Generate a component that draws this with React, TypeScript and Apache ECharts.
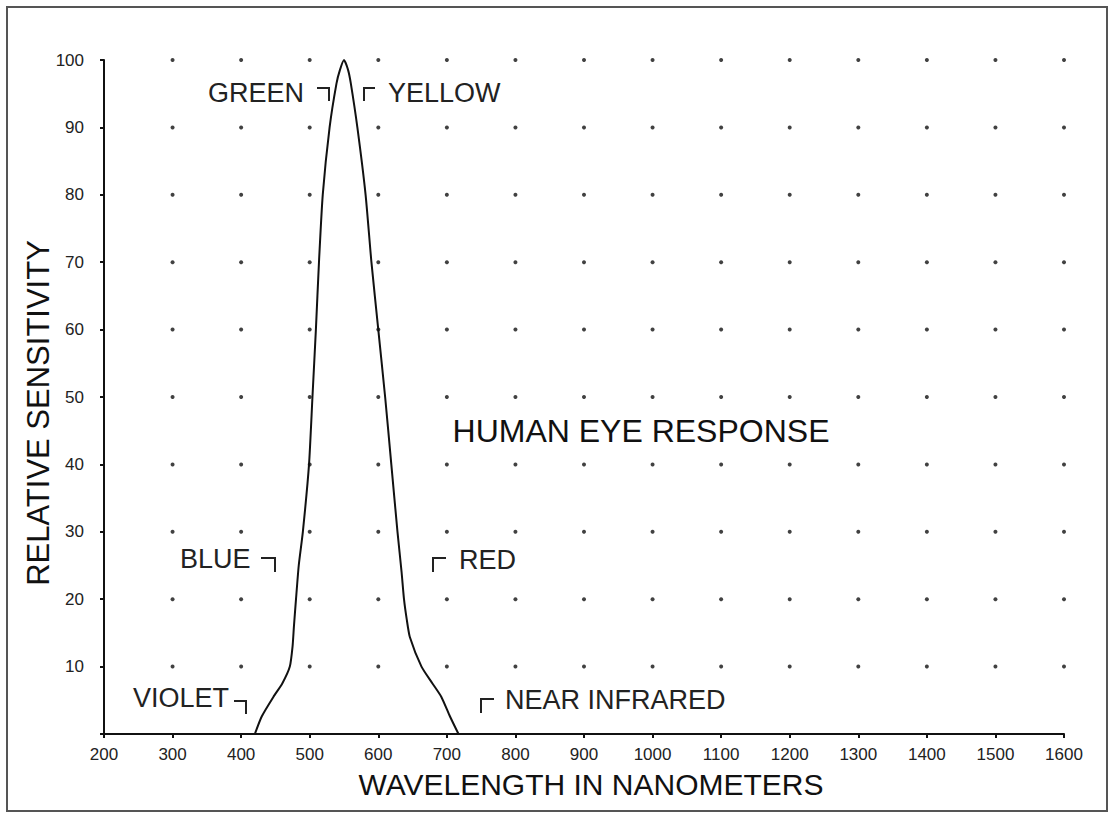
import React, { useEffect, useRef } from "react";
import * as echarts from "echarts";

// Curve points: [wavelength nm, relative sensitivity %]
const wavelengths = [420, 430, 447, 460, 471, 475, 477, 480, 484, 490, 499, 504, 509, 513.5, 519, 529, 539, 544, 550, 556, 560, 569.5, 581.5, 590, 600, 610, 619, 628, 634, 637.5, 641.5, 646, 663, 679, 692, 704.6, 717];
const sensitivity = [0, 2.6, 5.5, 7.5, 10, 13, 16, 20, 25, 30, 40, 50, 60, 70, 80, 90, 96.5, 98.5, 100, 98.5, 96.5, 90, 80, 70, 60, 50, 40, 30, 24, 20, 17, 14.4, 10, 7.5, 5.5, 2.6, 0];

// Dot grid positions
const gridX = [300, 400, 500, 600, 700, 800, 900, 1000, 1100, 1200, 1300, 1400, 1500, 1600];
const gridY = [10, 20, 30, 40, 50, 60, 70, 80, 90, 100];

const xTitle = "WAVELENGTH IN NANOMETERS";
const yTitle = "RELATIVE SENSITIVITY";
const chartTitle = "HUMAN EYE RESPONSE";

const FONT = "'Liberation Sans', Arial, sans-serif";

export default function App() {
  const ref = useRef<HTMLDivElement>(null);
  useEffect(() => {
    document.body.style.margin = "0";
    const chart = echarts.init(ref.current!, null, { renderer: "svg" });
    const curve = wavelengths.map((w, i) => [w, sensitivity[i]]);
    const dots: number[][] = [];
    gridX.forEach((x) => gridY.forEach((y) => dots.push([x, y])));

    const labelStyle = { fill: "#222", font: `27px ${FONT}` };
    const bracket = (pts: number[][]) => ({
      type: "polyline",
      shape: { points: pts },
      style: { stroke: "#222", lineWidth: 2, fill: null },
    });

    chart.setOption({
      animation: false,
      backgroundColor: "#fff",
      grid: { left: 104, right: 47, top: 60, bottom: 80 },
      xAxis: {
        type: "value",
        min: 200,
        max: 1600,
        interval: 100,
        axisLine: { lineStyle: { color: "#111", width: 2 } },
        axisTick: { show: true, length: 4, lineStyle: { color: "#111", width: 2 } },
        axisLabel: {
          color: "#222",
          fontSize: 17,
          fontFamily: FONT,
          margin: 12,
          formatter: (v: number) => String(v),
        },
        splitLine: { show: false },
      },
      yAxis: {
        type: "value",
        min: 0,
        max: 100,
        interval: 10,
        axisLine: { show: true, lineStyle: { color: "#111", width: 2 } },
        axisTick: { show: true, length: 4, lineStyle: { color: "#111", width: 2 } },
        axisLabel: {
          color: "#222",
          fontSize: 17,
          fontFamily: FONT,
          margin: 20,
          formatter: (v: number) => (v === 0 ? "" : String(v)),
        },
        splitLine: { show: false },
      },
      series: [
        {
          type: "scatter",
          data: dots,
          symbol: "circle",
          symbolSize: 4,
          itemStyle: { color: "#111" },
          silent: true,
        },
        {
          type: "line",
          data: curve,
          showSymbol: false,
          smooth: 0.2,
          lineStyle: { color: "#111", width: 2 },
        },
      ],
      graphic: [
        {
          type: "rect",
          shape: { x: 7, y: 7, width: 1100, height: 804 },
          style: { stroke: "#555", lineWidth: 2, fill: null },
          silent: true,
        },
        {
          type: "text",
          x: 591,
          y: 784,
          style: { text: xTitle, fill: "#111", font: `30px ${FONT}`, textAlign: "center", textVerticalAlign: "middle" },
        },
        {
          type: "text",
          x: 38,
          y: 413,
          rotation: Math.PI / 2,
          style: { text: yTitle, fill: "#111", font: `31px ${FONT}`, textAlign: "center", textVerticalAlign: "middle" },
        },
        {
          type: "text",
          x: 641,
          y: 431,
          style: { text: chartTitle, fill: "#111", font: `32px ${FONT}`, textAlign: "center", textVerticalAlign: "middle" },
        },
        { type: "text", x: 208, y: 93, style: { ...labelStyle, text: "GREEN", textVerticalAlign: "middle" } },
        bracket([[317, 88], [329, 88], [329, 101]]),
        bracket([[364, 101], [364, 88], [375, 88]]),
        { type: "text", x: 388, y: 93, style: { ...labelStyle, text: "YELLOW", textVerticalAlign: "middle" } },
        { type: "text", x: 180, y: 559, style: { ...labelStyle, text: "BLUE", textVerticalAlign: "middle" } },
        bracket([[261, 558], [275, 558], [275, 572]]),
        { type: "text", x: 133, y: 698, style: { ...labelStyle, text: "VIOLET", textVerticalAlign: "middle" } },
        bracket([[234, 701], [246, 701], [246, 714]]),
        bracket([[433, 572], [433, 558], [446, 558]]),
        { type: "text", x: 459, y: 560, style: { ...labelStyle, text: "RED", textVerticalAlign: "middle" } },
        bracket([[481, 713], [481, 699], [494, 699]]),
        { type: "text", x: 505, y: 700, style: { ...labelStyle, text: "NEAR INFRARED", textVerticalAlign: "middle" } },
      ],
    });
    return () => chart.dispose();
  }, []);
  return <div ref={ref} style={{ position: "absolute", left: 0, top: 0, width: 1111, height: 814 }} />;
}
